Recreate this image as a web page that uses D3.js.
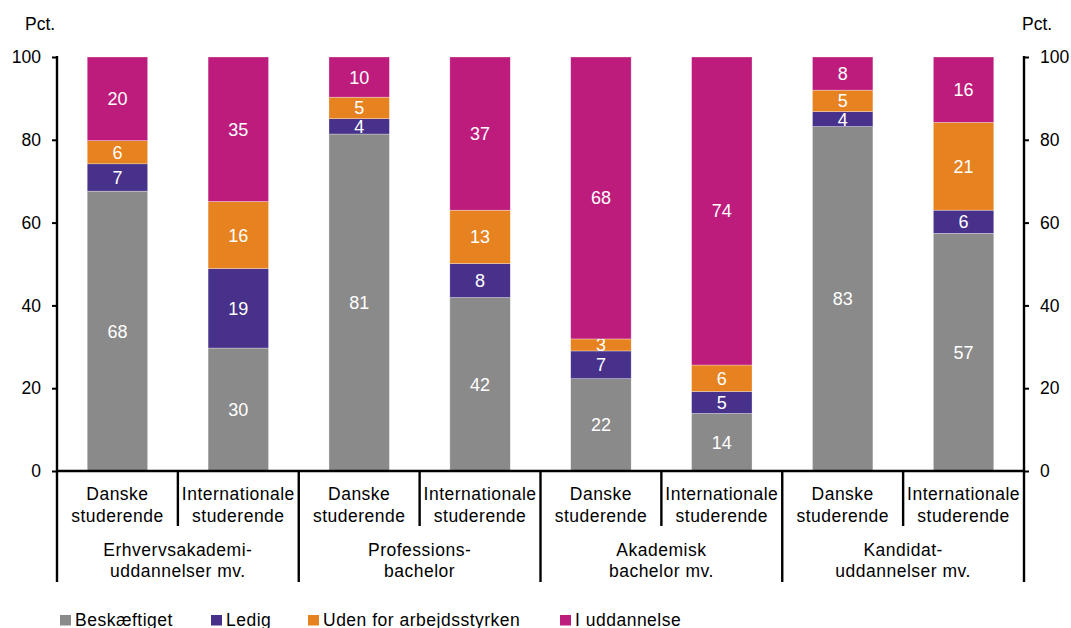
<!DOCTYPE html>
<html>
<head>
<meta charset="utf-8">
<script src="https://cdn.jsdelivr.net/npm/d3@7"></script>
<style>
  html, body { margin: 0; padding: 0; background: #fff; }
  svg { display: block; font-family: "Liberation Sans", Arial, sans-serif; }
  .word { letter-spacing: 0.5px; }
</style>
</head>
<body>
<svg id="chart" width="1071" height="628"></svg>
<script>
// ---- Data ----
const subCategories = ["Danske studerende", "Internationale studerende", "Danske studerende", "Internationale studerende",
                       "Danske studerende", "Internationale studerende", "Danske studerende", "Internationale studerende"];
const groups = ["Erhvervsakademi-|uddannelser mv.", "Professions-|bachelor", "Akademisk|bachelor mv.", "Kandidat-|uddannelser mv."];
const seriesNames = ["Beskæftiget", "Ledig", "Uden for arbejdsstyrken", "I uddannelse"];
const beskaeftiget = [67.6, 29.7, 81.4, 41.9, 22.3, 13.9, 83.2, 57.4];
const ledig        = [6.6, 19.2, 3.7, 8.2, 6.7, 5.3, 3.6, 5.6];
const udenFor      = [5.6, 16.2, 5.2, 12.9, 2.9, 6.4, 5.2, 21.2];
const iUddannelse  = [20.2, 34.9, 9.7, 37.0, 68.1, 74.4, 8.0, 15.8];
const yTicks = [0, 20, 40, 60, 80, 100];
const colors = ["#8a8a8a", "#47318b", "#e6821f", "#bd1c7d"];

(function () {
// ---- Layout ----
const svg = d3.select("#chart");
const mLeft = 57, mRight = 1024, mTop = 57, mBottom = 471;
const fontSize = 17.5;

const x = d3.scaleBand().domain(d3.range(subCategories.length)).range([mLeft, mRight]).paddingInner(0.5).paddingOuter(0.25);
const y = d3.scaleLinear().domain([0, 100]).range([mBottom, mTop]);

const rows = d3.range(subCategories.length).map(i => ({
  i, "Beskæftiget": beskaeftiget[i], "Ledig": ledig[i], "Uden for arbejdsstyrken": udenFor[i], "I uddannelse": iUddannelse[i]
}));
const stack = d3.stack().keys(seriesNames)(rows);

// Bars
const layers = svg.append("g").selectAll("g").data(stack).join("g")
  .attr("fill", (d, k) => colors[k]);
layers.selectAll("rect").data(d => d).join("rect")
  .attr("x", d => x(d.data.i))
  .attr("width", x.bandwidth())
  .attr("y", d => y(d[1]))
  .attr("height", d => y(d[0]) - y(d[1]))
  .attr("stroke", "#ffffff").attr("stroke-width", 0.6).attr("stroke-opacity", 0.5);

// Data labels
layers.selectAll("text").data(d => d).join("text")
  .attr("x", d => x(d.data.i) + x.bandwidth() / 2)
  .attr("y", d => (y(d[0]) + y(d[1])) / 2)
  .attr("dy", "0.36em")
  .attr("text-anchor", "middle")
  .attr("fill", "#ffffff")
  .attr("font-size", 18)
  .text(d => d3.format(".0f")(d[1] - d[0]));

// Axes
const yLeft = d3.axisLeft(y).tickValues(yTicks).tickSize(5).tickPadding(11);
const yRight = d3.axisRight(y).tickValues(yTicks).tickSize(5).tickPadding(11);
const gL = svg.append("g").attr("transform", `translate(${mLeft},0)`).call(yLeft);
const gR = svg.append("g").attr("transform", `translate(${mRight},0)`).call(yRight);
[gL, gR].forEach(g => {
  g.select(".domain").remove();
  g.selectAll(".tick line").attr("stroke", "#000").attr("stroke-width", 2);
  g.selectAll(".tick text").attr("font-size", fontSize).attr("fill", "#000").attr("font-family", "Liberation Sans, Arial, sans-serif");
});

// Axis vertical lines (extend down through category area)
svg.append("line").attr("x1", mLeft).attr("x2", mLeft).attr("y1", mTop - 1).attr("y2", 582).attr("stroke", "#000").attr("stroke-width", 2.4);
svg.append("line").attr("x1", mRight).attr("x2", mRight).attr("y1", mTop - 1).attr("y2", 582).attr("stroke", "#000").attr("stroke-width", 2.4);

// Baseline
svg.append("line").attr("x1", mLeft).attr("x2", mRight).attr("y1", y(0)).attr("y2", y(0)).attr("stroke", "#000").attr("stroke-width", 2.4);

// "Pct." labels
svg.append("text").attr("x", 25).attr("y", 30).attr("font-size", fontSize).text("Pct.");
svg.append("text").attr("x", 1022).attr("y", 30).attr("font-size", fontSize).text("Pct.");

// Category separators
const step = x.step();
for (let k = 1; k < subCategories.length; k++) {
  const xb = x(k) - x.paddingInner() * step / 2;
  svg.append("line").attr("x1", xb).attr("x2", xb).attr("y1", y(0)).attr("y2", k % 2 === 0 ? 582 : 526)
    .attr("stroke", "#000").attr("stroke-width", 2.4);
}

// Sub-category labels
const subG = svg.append("g").attr("font-size", fontSize).attr("text-anchor", "middle").attr("class", "word");
subCategories.forEach((c, i) => {
  const parts = c.split(" ");
  const cx = x(i) + x.bandwidth() / 2;
  const t = subG.append("text");
  t.append("tspan").attr("x", cx).attr("y", 499.5).text(parts[0]);
  t.append("tspan").attr("x", cx).attr("y", 521.5).text(parts[1]);
});

// Group labels
groups.forEach((g, j) => {
  const cx = (x(2 * j) + x(2 * j + 1) + x.bandwidth()) / 2;
  const parts = g.split("|");
  const t = svg.append("text").attr("font-size", fontSize).attr("text-anchor", "middle").attr("class", "word");
  t.append("tspan").attr("x", cx).attr("y", 555.5).text(parts[0]);
  t.append("tspan").attr("x", cx).attr("y", 577).text(parts[1]);
});

// Legend
const legendX = [60, 211, 308, 560];
const leg = svg.append("g");
seriesNames.forEach((s, k) => {
  leg.append("rect").attr("x", legendX[k]).attr("y", 615).attr("width", 11).attr("height", 10.5).attr("fill", colors[k]);
  leg.append("text").attr("x", legendX[k] + 15).attr("y", 625.5).attr("font-size", fontSize).attr("class", "word").text(s);
});
})();
</script>
</body>
</html>
